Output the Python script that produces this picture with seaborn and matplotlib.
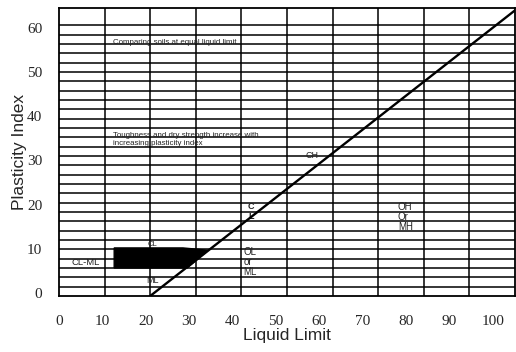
import numpy as np
import matplotlib
matplotlib.use("Agg")
import matplotlib.pyplot as plt
import seaborn as sns

# A-line and CL-ML zone (grid units: liquid limit / plasticity index)
a_line_ll = [20, 100]
a_line_pi = [0, 61.2]
clml_ll = [12.1, 28.1, 32.7, 27.2, 12.1]
clml_pi = [6.0, 6.0, 9.8, 10.3, 10.3]

x_grid = np.arange(10, 100, 10)
y_grid = np.arange(2, 60, 2)

x_tick_labels = [0, 10, 20, 30, 40, 50, 60, 70, 80, 90, 100]
y_tick_labels = [0, 10, 20, 30, 40, 50, 60]

sns.set_style("white")
plt.rcParams['font.family'] = ['Liberation Sans', 'DejaVu Sans']

fig = plt.figure(figsize=(5.16, 3.52), dpi=100)
ax = fig.add_axes([59/516, 56/352, 456/516, 288/352])
ax.set_xlim(0, 100)
ax.set_ylim(0, 61.7)

for xv in x_grid:
    ax.axvline(xv, color='black', lw=1.1, zorder=1)
for yv in y_grid:
    ax.axhline(yv, color='black', lw=1.1, zorder=1)

ax.fill(clml_ll, clml_pi, color='black', zorder=3)
sns.lineplot(x=a_line_ll, y=a_line_pi, color='black', lw=1.7, ax=ax, zorder=4)

txt = dict(color='#222222', zorder=2)
ax.text(11.8, 54.4, 'Comparing soils at equal liquid limit', fontsize=5.7, va='center', **txt)
ax.text(11.8, 33.6, 'Toughness and dry strength increase with\nincreasing plasticity index',
        fontsize=5.7, va='center', linespacing=1.15, **txt)
ax.text(55.5, 30.0, 'CH', fontsize=6.5, ha='center', va='center', **txt)
ax.text(42.1, 18.1, 'C\nL', fontsize=6.5, ha='center', va='center', fontweight='bold', linespacing=1.05, **txt)
ax.text(74.3, 16.9, 'OH\nOr\nMH', fontsize=7, va='center', linespacing=1.0, **txt)
ax.text(40.4, 7.2, 'OL\nor\nML', fontsize=7, va='center', linespacing=1.0, **txt)
ax.text(5.9, 7.1, 'CL-ML', fontsize=6.8, ha='center', va='center', **txt)
ax.text(20.6, 3.4, 'ML', fontsize=6.5, ha='center', va='center', **txt)
ax.text(20.6, 11.0, 'CL', fontsize=5.5, ha='center', va='center', **txt)

ax.set_xticks([])
ax.set_yticks([])
for s in ax.spines.values():
    s.set_color('black')
    s.set_linewidth(1.3)

# tick labels sit on their own slightly different scale
lab = fig.add_axes(ax.get_position(), frameon=False)
lab.set_xlim(0, 105.1)
lab.set_ylim(-0.7, 64.5)
lab.set_xticks(x_tick_labels)
lab.set_yticks(y_tick_labels)
lab.tick_params(length=0, labelsize=11, pad=14)
lab.tick_params(axis='y', pad=12)
for t in lab.get_xticklabels() + lab.get_yticklabels():
    t.set_fontfamily('Liberation Serif')
lab.set_xlabel('Liquid Limit', fontsize=12.5, labelpad=0)
lab.set_ylabel('Plasticity Index', fontsize=12.5, labelpad=0)
lab.patch.set_alpha(0)

fig.savefig('out.png', dpi=100)
